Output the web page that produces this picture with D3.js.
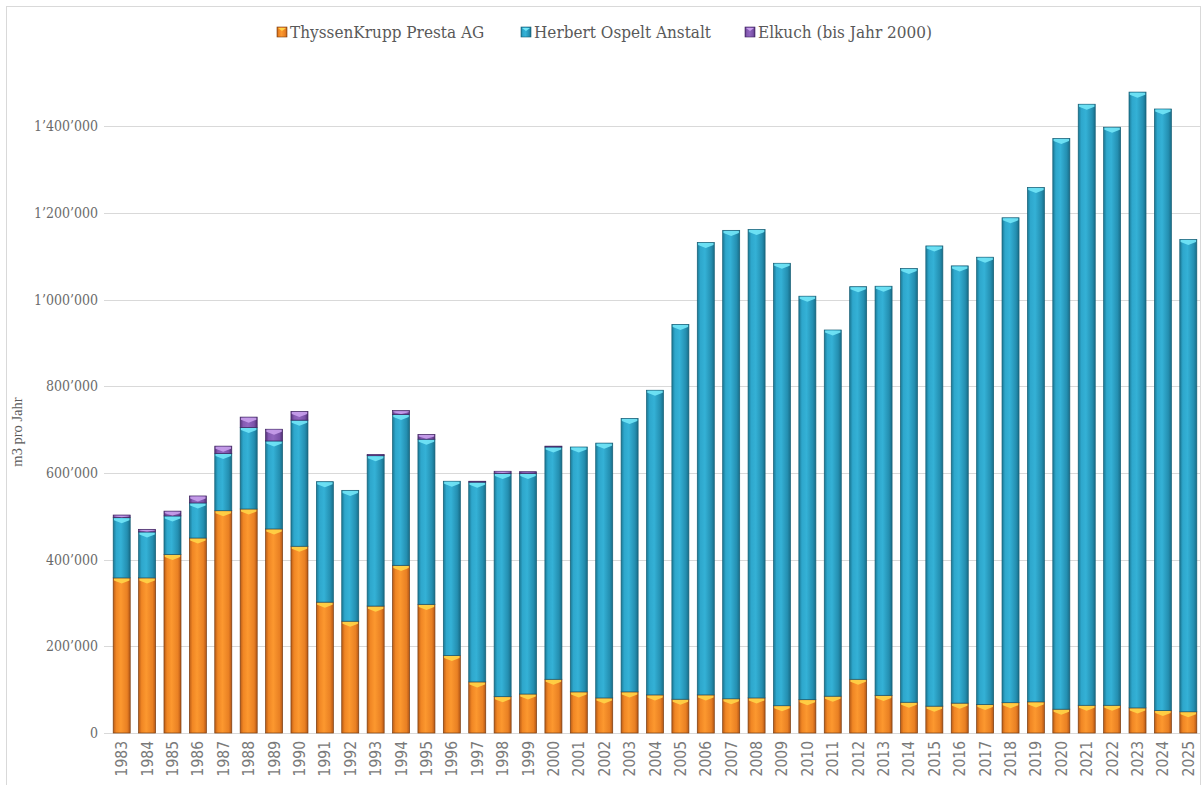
<!DOCTYPE html>
<html>
<head>
<meta charset="utf-8">
<script src="https://cdn.jsdelivr.net/npm/d3@7"></script>
<style>
  body { margin: 0; background: #fff; }
  svg { display: block; }
</style>
</head>
<body>
<div id="chart"></div>
<script>
const years = d3.range(1983, 2026).map(String);

const presta = [358000, 358000, 412000, 450000, 513000, 517000, 471000, 431000, 302000, 258000,
  293000, 387000, 297000, 179000, 118000, 84000, 90000, 124000, 95000, 81000,
  95000, 88000, 78000, 88000, 79000, 81000, 63000, 77000, 85000, 124000,
  87000, 71000, 62000, 69000, 66000, 70000, 72000, 55000, 64000, 64000,
  58000, 52000, 49000];

const ospelt = [139000, 106000, 89000, 81000, 132000, 188000, 203000, 291000, 278000, 302000,
  347000, 348000, 381000, 402000, 461000, 515000, 509000, 536000, 565000, 588000,
  631000, 703000, 865000, 1044000, 1081000, 1081000, 1021000, 931000, 845000, 906000,
  944000, 1001000, 1062000, 1009000, 1032000, 1119000, 1187000, 1317000, 1387000, 1334000,
  1421000, 1388000, 1090000];

const elkuch = [6000, 6000, 11000, 16000, 17000, 24000, 27000, 20000, 0, 0,
  3000, 9000, 11000, 0, 2000, 5000, 4000, 2000, 0, 0,
  0, 0, 0, 0, 0, 0, 0, 0, 0, 0,
  0, 0, 0, 0, 0, 0, 0, 0, 0, 0,
  0, 0, 0];

const seriesNames = ['ThyssenKrupp Presta AG', 'Herbert Ospelt Anstalt', 'Elkuch (bis Jahr 2000)'];
const yTicks = [0, 200000, 400000, 600000, 800000, 1000000, 1200000, 1400000];

const width = 1202, height = 785;
const margin = { top: 83, right: 1, bottom: 52, left: 109 };

// colour sets per series: edge, mid, light bevel, outline
const palette = [
  { id: 'g0', stops: ['#b95c17', '#f08624', '#fc982f', '#e98023', '#b35616'], bevel: '#ffd447', stroke: '#7a3d10' },
  { id: 'g1', stops: ['#1b7894', '#2ea7cc', '#34b1d6', '#248fb1', '#196d88'], bevel: '#72e6f7', stroke: '#155e75' },
  { id: 'g2', stops: ['#553178', '#855bb3', '#9166bf', '#7a52a8', '#4f2e70'], bevel: '#c9a0ec', stroke: '#3f2460' }
];

const rows = years.map(function (y, i) {
  return { year: y, s0: presta[i], s1: ospelt[i], s2: elkuch[i] };
});

const stacked = d3.stack().keys(['s0', 's1', 's2'])(rows);

const svg = d3.select('#chart').append('svg')
  .attr('width', width)
  .attr('height', height);

const defs = svg.append('defs');
palette.forEach(function (p) {
  const grad = defs.append('linearGradient')
    .attr('id', p.id)
    .attr('x1', '0%').attr('x2', '100%')
    .attr('y1', '0%').attr('y2', '0%');
  const offs = [0, 0.18, 0.45, 0.82, 1];
  p.stops.forEach(function (c, i) {
    grad.append('stop').attr('offset', offs[i]).attr('stop-color', c);
  });
});

// outer frame
svg.append('rect')
  .attr('x', 6.5).attr('y', 6.5)
  .attr('width', 1194).attr('height', 800)
  .attr('fill', 'none')
  .attr('stroke', '#d9d9d9');

const x = d3.scaleBand()
  .domain(years)
  .range([margin.left, width - margin.right])
  .paddingInner(0.33)
  .paddingOuter(0.165);

const y = d3.scaleLinear()
  .domain([0, 1500000])
  .range([height - margin.bottom, margin.top]);

const fmt = function (v) {
  return d3.format(',')(v).replace(/,/g, '\u2019');
};

// gridlines
svg.append('g')
  .selectAll('line')
  .data(yTicks)
  .enter()
  .append('line')
  .attr('x1', margin.left - 5)
  .attr('x2', width - margin.right)
  .attr('y1', function (d) { return Math.round(y(d)) + 0.5; })
  .attr('y2', function (d) { return Math.round(y(d)) + 0.5; })
  .attr('stroke', '#d9d9d9')
  .attr('stroke-width', 1);

// y axis labels
svg.append('g')
  .selectAll('text')
  .data(yTicks)
  .enter()
  .append('text')
  .attr('x', margin.left - 11)
  .attr('y', function (d) { return y(d) + 5; })
  .attr('text-anchor', 'end')
  .style('font-family', '"DejaVu Serif", serif')
  .style('font-stretch', 'condensed')
  .style('font-size', '14px')
  .style('fill', '#6b6b6b')
  .text(fmt);

svg.append('text')
  .attr('transform', 'translate(22,' + 432 + ') rotate(-90)')
  .attr('text-anchor', 'middle')
  .style('font-family', '"Liberation Serif", serif')
  .style('font-size', '14.5px')
  .style('fill', '#595959')
  .text('m3 pro Jahr');

// x axis labels
svg.append('g')
  .selectAll('text')
  .data(years)
  .enter()
  .append('text')
  .attr('transform', function (d) {
    return 'translate(' + (x(d) + x.bandwidth() / 2 + 5.5) + ',' + (height - margin.bottom + 8) + ') rotate(-90)';
  })
  .attr('text-anchor', 'end')
  .style('font-family', '"Liberation Sans Narrow", "DejaVu Sans Condensed", "DejaVu Sans", sans-serif')
  .style('font-stretch', 'condensed')
  .style('font-size', '15.5px')
  .style('fill', '#7a7a7a')
  .text(function (d) { return d; });

// bars
const layers = svg.append('g')
  .selectAll('g')
  .data(stacked)
  .enter()
  .append('g');

layers.each(function (layer, li) {
  const p = palette[li];
  const g = d3.select(this);
  const segs = layer.filter(function (d) { return d[1] - d[0] > 0; });

  g.selectAll('rect')
    .data(segs)
    .enter()
    .append('rect')
    .attr('x', function (d) { return x(d.data.year); })
    .attr('y', function (d) { return y(d[1]); })
    .attr('width', x.bandwidth())
    .attr('height', function (d) { return y(d[0]) - y(d[1]); })
    .attr('fill', 'url(#' + p.id + ')')
    .attr('stroke', p.stroke)
    .attr('stroke-width', 0.7);

  // light bevel on top of each segment
  g.selectAll('path')
    .data(segs.filter(function (d) { return y(d[0]) - y(d[1]) > 2; }))
    .enter()
    .append('path')
    .attr('d', function (d) {
      const bx = x(d.data.year) + 0.8;
      const bw = x.bandwidth() - 1.6;
      const by = y(d[1]) + 0.6;
      const h = Math.min(5, y(d[0]) - y(d[1]) - 1);
      return 'M' + bx + ',' + by +
        'L' + (bx + bw) + ',' + by +
        'L' + (bx + bw) + ',' + (by + h * 0.4) +
        'L' + (bx + bw / 2) + ',' + (by + h) +
        'L' + bx + ',' + (by + h * 0.4) + 'Z';
    })
    .attr('fill', p.bevel)
    .attr('opacity', 0.9);
});

// legend
const legendX = [277, 521, 745];
const legend = svg.append('g')
  .selectAll('g')
  .data(seriesNames)
  .enter()
  .append('g')
  .attr('transform', function (d, i) { return 'translate(' + legendX[i] + ',' + 27 + ')'; });

legend.append('rect')
  .attr('width', 10)
  .attr('height', 10)
  .attr('fill', function (d, i) { return 'url(#' + palette[i].id + ')'; })
  .attr('stroke', function (d, i) { return palette[i].stroke; })
  .attr('stroke-width', 0.6);

legend.append('path')
  .attr('d', 'M1,1L9,1L5,4Z')
  .attr('fill', function (d, i) { return palette[i].bevel; });

legend.append('text')
  .attr('x', 13)
  .attr('y', 11)
  .style('font-family', '"DejaVu Serif", serif')
  .style('font-stretch', 'condensed')
  .style('font-size', '17px')
  .style('fill', '#595959')
  .text(function (d) { return d; });
</script>
</body>
</html>
